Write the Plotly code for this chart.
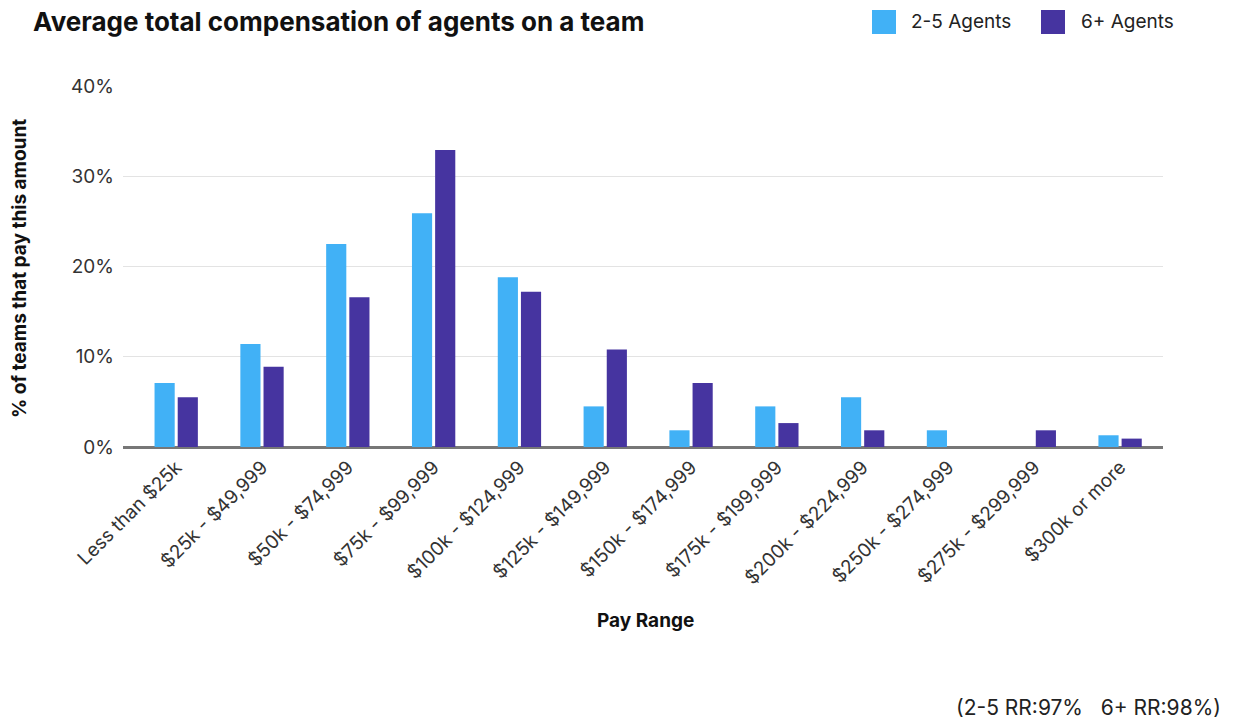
import plotly.graph_objects as go

# Pay range buckets and share of teams (%) paying each amount
categories = [
    "Less than $25k", "$25k - $49,999", "$50k - $74,999", "$75k - $99,999",
    "$100k - $124,999", "$125k - $149,999", "$150k - $174,999",
    "$175k - $199,999", "$200k - $224,999", "$250k - $274,999",
    "$275k - $299,999", "$300k or more",
]
small_teams = [7.1, 11.4, 22.5, 25.9, 18.8, 4.5, 1.85, 4.5, 5.5, 1.85, 0, 1.3]
large_teams = [5.5, 8.9, 16.6, 32.9, 17.2, 10.8, 7.1, 2.65, 1.85, 0, 1.85, 0.93]
series_names = ["2-5 Agents", "6+ Agents"]
y_ticks = [0, 10, 20, 30, 40]
y_tick_labels = ["0%", "10%", "20%", "30%", "40%"]

LIGHT = "#41B1F6"
DARK = "#4634A0"
FONT = "Inter"

fig = go.Figure()
fig.add_bar(x=categories, y=small_teams, name=series_names[0],
            marker=dict(color=LIGHT, line=dict(width=0)), showlegend=False)
fig.add_bar(x=categories, y=large_teams, name=series_names[1],
            marker=dict(color=DARK, line=dict(width=0)), showlegend=False)

W, H = 1235, 720
L, R, T, B = 123, 72, 86, 273
pw, ph = W - L - R, H - T - B


def px_x(p):
    return (p - L) / pw


def px_y(p):
    return (H - B - p) / ph


# Custom legend: squares plus labels at the top right
legend_items = [(872, 909, series_names[0], LIGHT), (1041, 1079, series_names[1], DARK)]
shapes = []
annotations = []
for sx, tx, label, color in legend_items:
    shapes.append(dict(type="rect", xref="paper", yref="paper",
                       x0=px_x(sx), x1=px_x(sx + 24), y0=px_y(10), y1=px_y(34),
                       fillcolor=color, line=dict(width=0)))
    annotations.append(dict(text=label, xref="paper", yref="paper",
                            x=px_x(tx), y=px_y(22), xanchor="left", yanchor="middle",
                            showarrow=False, font=dict(family=FONT, size=19, color="#222")))

# Axis titles
annotations.append(dict(text="<b>Pay Range</b>", xref="paper", yref="paper",
                        x=px_x(645), y=px_y(620), xanchor="center", yanchor="middle",
                        showarrow=False, font=dict(family=FONT, size=19, color="#111")))
annotations.append(dict(text="<b>% of teams that pay this amount</b>", xref="paper", yref="paper",
                        x=px_x(19), y=px_y(269), xanchor="center", yanchor="middle",
                        textangle=-90, showarrow=False,
                        font=dict(family=FONT, size=19, color="#111")))
# Response-rate footnote
annotations.append(dict(text="(2-5 RR:97%   6+ RR:98%)", xref="paper", yref="paper",
                        x=px_x(1223), y=px_y(707), xanchor="right", yanchor="middle",
                        showarrow=False, font=dict(family=FONT, size=21, color="#222")))

fig.update_layout(
    width=W, height=H,
    margin=dict(l=L, r=R, t=T, b=B, autoexpand=False),
    paper_bgcolor="white", plot_bgcolor="white",
    barmode="group", bargap=0.46, bargroupgap=0.13,
    title=dict(text="<b>Average total compensation of agents on a team</b>",
               x=33 / W, xanchor="left", xref="container",
               y=1 - 22 / H, yanchor="middle", yref="container",
               font=dict(family=FONT, size=26, color="#111")),
    font=dict(family=FONT, size=19, color="#333"),
    shapes=shapes, annotations=annotations,
    xaxis=dict(tickangle=-45, tickfont=dict(size=19, color="#333"),
               showgrid=False, showline=True, linecolor="#777", linewidth=1.5,
               ticks="", ticklen=0, range=[-0.62, 11.5], automargin=False),
    yaxis=dict(range=[0, 40], tickmode="array", tickvals=y_ticks, ticktext=y_tick_labels,
               tickfont=dict(size=19, color="#333"), ticklabelstandoff=8,
               showgrid=True, gridcolor="#e3e3e3", gridwidth=1,
               zeroline=True, zerolinecolor="#777", zerolinewidth=1.5,
               ticks="", automargin=False),
)

fig.write_html("out.html")
